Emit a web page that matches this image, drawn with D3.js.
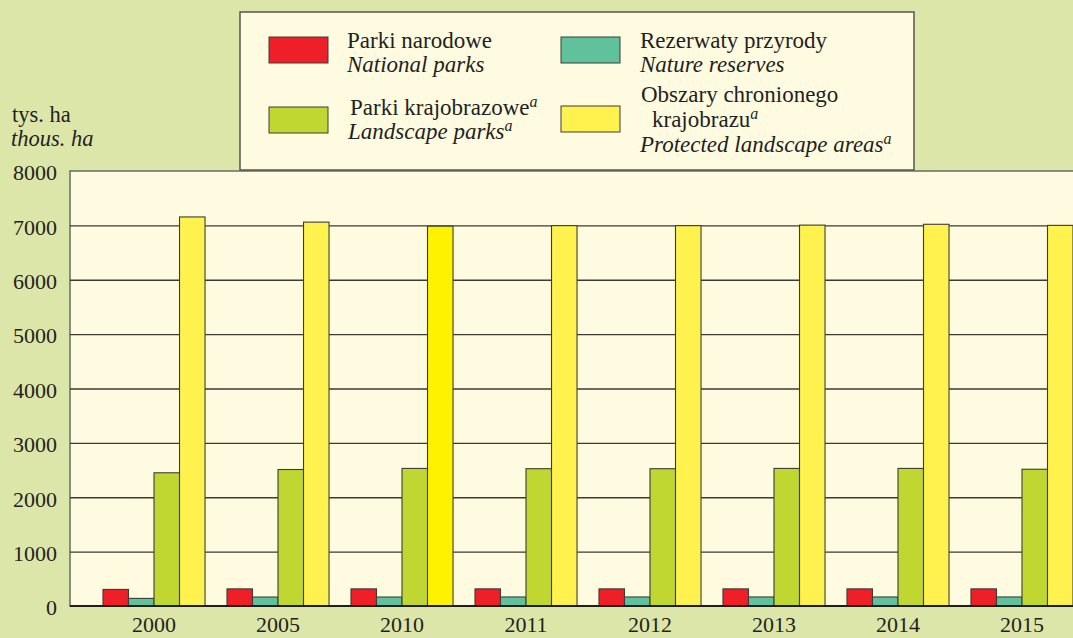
<!DOCTYPE html>
<html>
<head>
<meta charset="utf-8">
<script src="https://cdn.jsdelivr.net/npm/d3@7"></script>
<style>
  body { margin: 0; background: #dde6a9; }
  svg { display: block; }
</style>
</head>
<body>
<div id="chart"></div>
<script>
var years = ["2000", "2005", "2010", "2011", "2012", "2013", "2014", "2015"];
var nationalParks = [305, 315, 315, 315, 315, 315, 315, 315];
var natureReserves = [140, 165, 165, 166, 166, 166, 166, 166];
var landscapeParks = [2450, 2510, 2530, 2525, 2525, 2530, 2530, 2515];
var protectedAreas = [7155, 7060, 6985, 6995, 6995, 7005, 7020, 7000];
var yTicks = [0, 1000, 2000, 3000, 4000, 5000, 6000, 7000, 8000];

var seriesKeys = ["national", "reserves", "landscape", "protected"];
var seriesColors = ["#ee1f27", "#60c29d", "#bfd730", "#fff24f"];

var W = 1073, H = 638;
var plot = {left: 70, top: 171, right: 1106, bottom: 606};
var serif = "'Liberation Serif', 'Times New Roman', serif";
var ink = "#231f20";

var svg = d3.select("#chart").append("svg")
    .attr("width", W)
    .attr("height", H);

svg.append("rect")
    .attr("width", W).attr("height", H)
    .attr("fill", "#dde6a9");

// build rows for grouped bars
var rows = years.map(function(y, i) {
    return {year: y, values: [nationalParks[i], natureReserves[i], landscapeParks[i], protectedAreas[i]]};
});

var x0 = d3.scaleBand()
    .domain(years)
    .range([plot.left, plot.right])
    .paddingInner(0.177)
    .paddingOuter(0.266);

var x1 = d3.scaleBand()
    .domain(seriesKeys)
    .range([0, x0.bandwidth()])
    .padding(0);

var y = d3.scaleLinear()
    .domain([0, 8000])
    .range([plot.bottom, plot.top]);

// plot area
svg.append("rect")
    .attr("x", plot.left)
    .attr("y", plot.top)
    .attr("width", plot.right - plot.left)
    .attr("height", plot.bottom - plot.top)
    .attr("fill", "#fefbe0")
    .attr("stroke", "#6b6b66")
    .attr("stroke-width", 1.5);

// gridlines
var grid = svg.append("g")
    .attr("transform", "translate(" + plot.left + ",0)")
    .call(d3.axisLeft(y).tickValues(yTicks.slice(1, -1)).tickSize(-(plot.right - plot.left)).tickFormat(""));
grid.select(".domain").remove();
grid.selectAll("line")
    .attr("stroke", "#3a3a36")
    .attr("stroke-width", 1.3);

// y tick labels
var yAxis = svg.append("g")
    .attr("transform", "translate(" + plot.left + ",0)")
    .call(d3.axisLeft(y).tickValues(yTicks).tickSize(0).tickPadding(13).tickFormat(d3.format("d")));
yAxis.select(".domain").remove();
yAxis.selectAll("text")
    .attr("dy", "0.4em")
    .style("font-size", "22px")
    .style("font-family", serif)
    .attr("fill", ink);

// bars
var groups = svg.selectAll(".year")
    .data(rows)
    .enter()
    .append("g")
    .attr("class", "year")
    .attr("transform", function(d) { return "translate(" + x0(d.year) + ",0)"; });

groups.selectAll("rect")
    .data(function(d) {
        return d.values.map(function(v, i) { return {year: d.year, key: seriesKeys[i], idx: i, value: v}; });
    })
    .enter()
    .append("rect")
    .attr("x", function(d) { return x1(d.key); })
    .attr("y", function(d) { return y(d.value); })
    .attr("width", x1.bandwidth())
    .attr("height", function(d) { return y(0) - y(d.value); })
    .attr("fill", function(d) {
        // 2010 yellow is a brighter tone in the original
        if (d.idx == 3 && d.year == "2010") return "#fff200";
        return seriesColors[d.idx];
    })
    .attr("stroke", "#3d3d38")
    .attr("stroke-width", 1.1);

// baseline
svg.append("line")
    .attr("x1", plot.left).attr("x2", plot.right)
    .attr("y1", y(0)).attr("y2", y(0))
    .attr("stroke", "#1e1e1c")
    .attr("stroke-width", 2.2);

// x labels
var xAxis = svg.append("g")
    .attr("transform", "translate(0," + plot.bottom + ")")
    .call(d3.axisBottom(x0).tickSize(0).tickPadding(10));
xAxis.select(".domain").remove();
xAxis.selectAll("text")
    .style("font-size", "22px")
    .style("font-family", serif)
    .attr("fill", ink);

// unit label
svg.append("text")
    .attr("x", 12).attr("y", 122)
    .style("font-size", "22.5px")
    .style("font-family", serif)
    .attr("fill", ink)
    .text("tys. ha");
svg.append("text")
    .attr("x", 11).attr("y", 146)
    .style("font-size", "22.5px")
    .style("font-family", serif)
    .style("font-style", "italic")
    .attr("fill", ink)
    .text("thous. ha");

// legend
var leg = svg.append("g").attr("transform", "translate(240,12)");
leg.append("rect")
    .attr("width", 674).attr("height", 158)
    .attr("fill", "#fefbe0")
    .attr("stroke", "#555550")
    .attr("stroke-width", 1.5);

var swatchPos = [[29, 25], [321, 25], [29, 95], [321, 94]];
leg.selectAll(".sw")
    .data(seriesColors)
    .enter()
    .append("rect")
    .attr("class", "sw")
    .attr("x", function(d, i) { return swatchPos[i][0]; })
    .attr("y", function(d, i) { return swatchPos[i][1]; })
    .attr("width", 59).attr("height", 26)
    .attr("fill", function(d) { return d; })
    .attr("stroke", "#3d3d38")
    .attr("stroke-width", 1);

var legendLines = [
    {x: 107, y: 36, t: "Parki narodowe", it: false, sup: false},
    {x: 107, y: 60, t: "National parks", it: true, sup: false},
    {x: 400, y: 36, t: "Rezerwaty przyrody", it: false, sup: false},
    {x: 400, y: 60, t: "Nature reserves", it: true, sup: false},
    {x: 110, y: 103, t: "Parki krajobrazowe", it: false, sup: true},
    {x: 108, y: 127, t: "Landscape parks", it: true, sup: true},
    {x: 401, y: 90, t: "Obszary chronionego", it: false, sup: false},
    {x: 412, y: 115, t: "krajobrazu", it: false, sup: true},
    {x: 400, y: 140, t: "Protected landscape areas", it: true, sup: true}
];

legendLines.forEach(function(l) {
    var t = leg.append("text")
        .attr("x", l.x).attr("y", l.y)
        .style("font-size", "23px")
        .style("font-family", serif)
        .style("font-style", l.it ? "italic" : "normal")
        .attr("fill", ink);
    t.append("tspan").text(l.t);
    if (l.sup) {
        t.append("tspan")
            .attr("dy", -8)
            .style("font-size", "16px")
            .style("font-style", "italic")
            .text("a");
    }
});
</script>
</body>
</html>
